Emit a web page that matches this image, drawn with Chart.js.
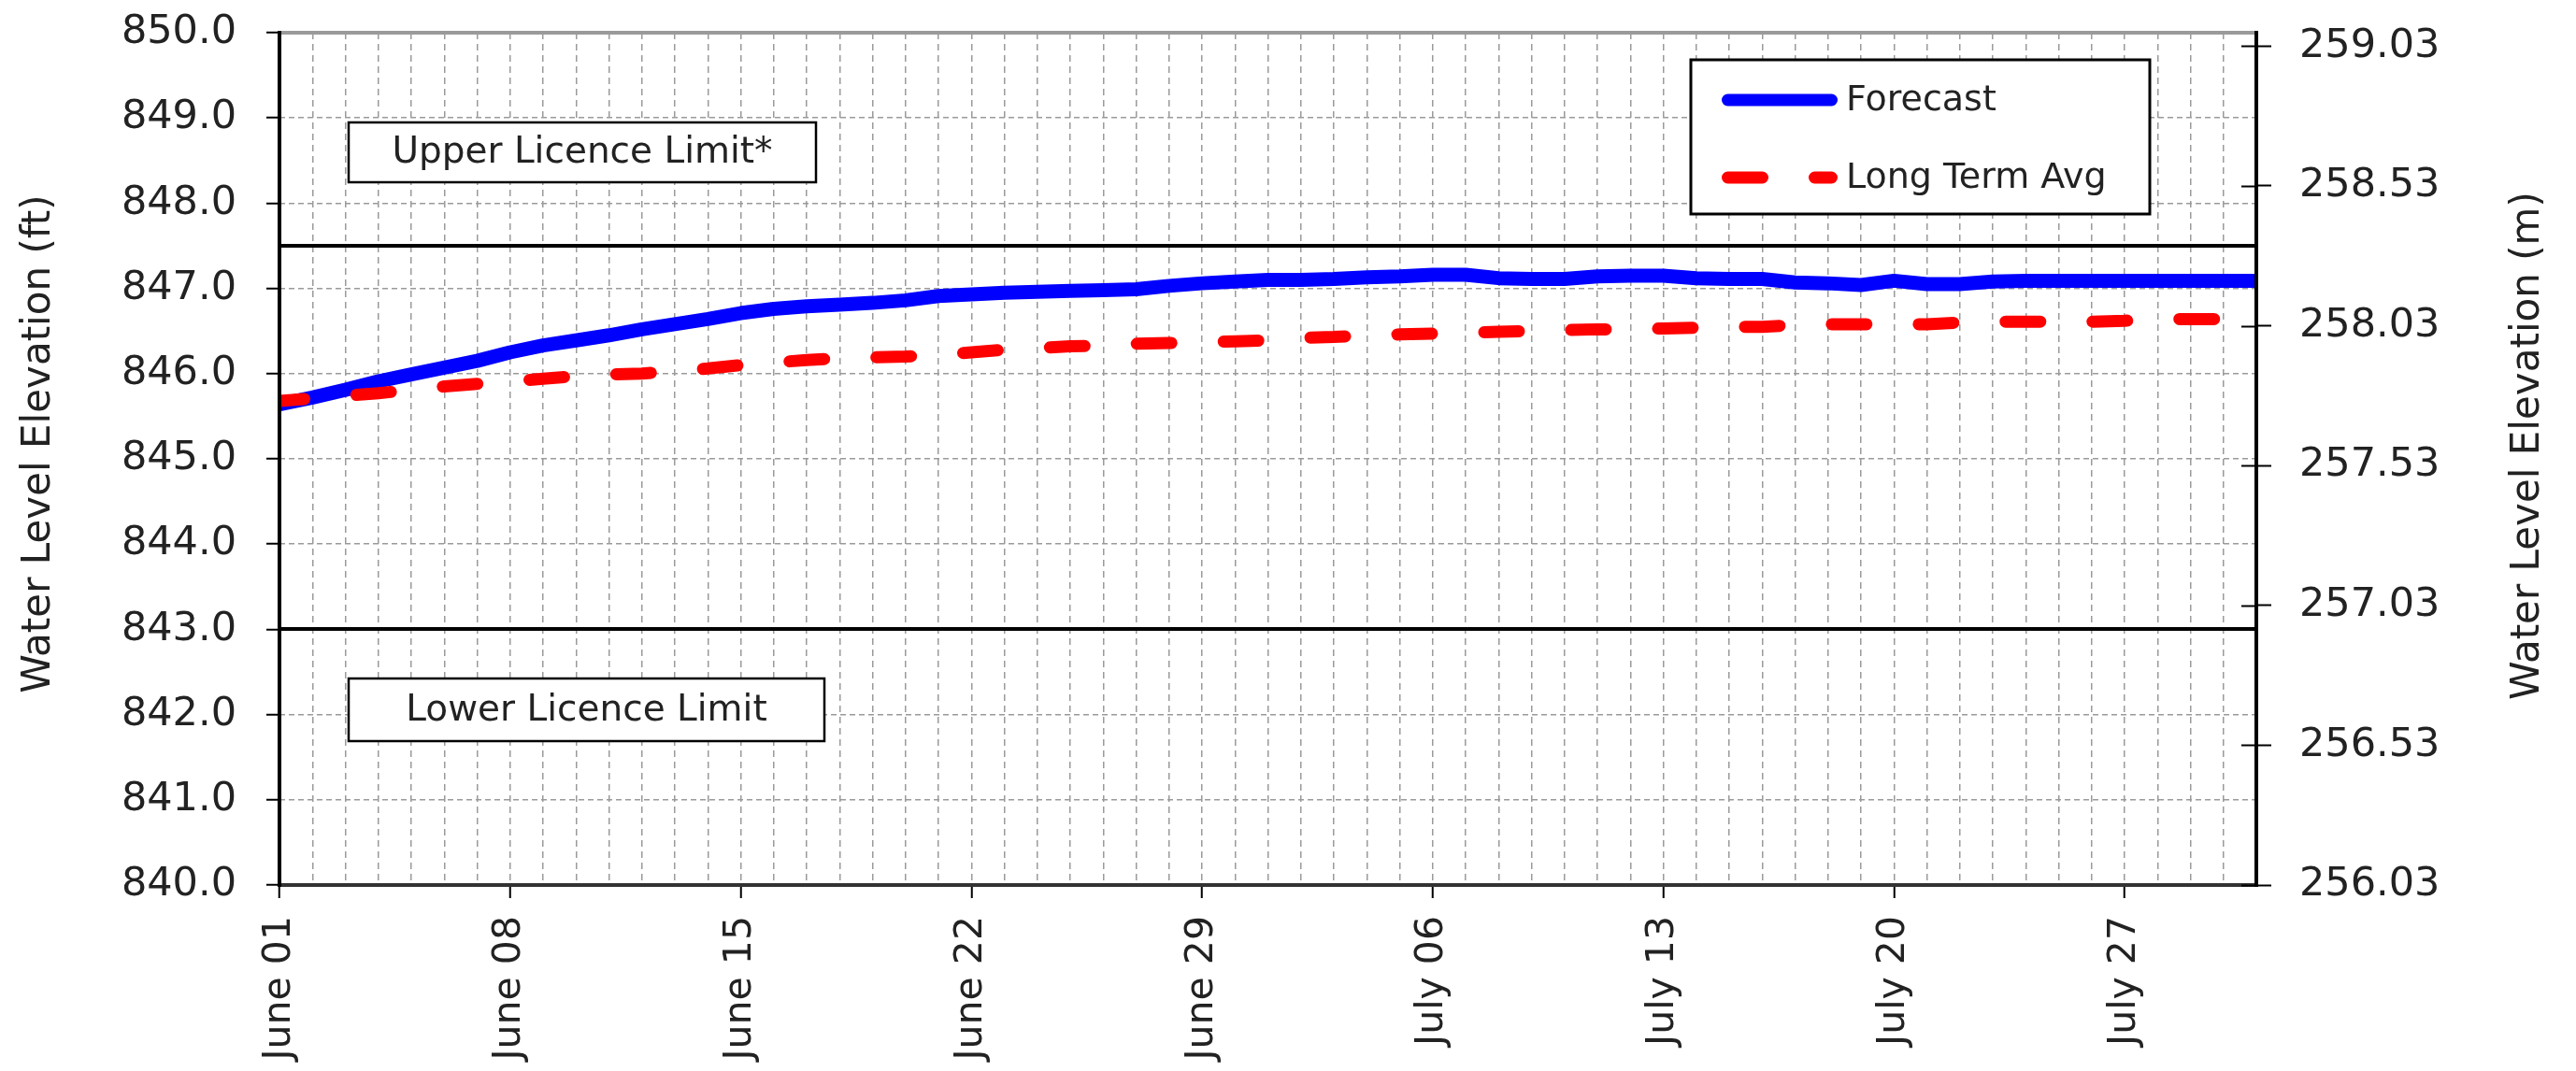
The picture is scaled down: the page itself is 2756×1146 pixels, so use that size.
<!DOCTYPE html>
<html><head><meta charset="utf-8">
<script src="https://cdn.jsdelivr.net/npm/chart.js@4"></script>
<style>html,body{margin:0;padding:0;background:#fff;}#wrap{width:2756px;height:1146px;}</style>
</head><body><div id="wrap"><canvas id="c" width="2756" height="1146"></canvas></div>
<script>
// ---- categories (daily, June 01 – July 31) ----
const months = [['June', 30], ['July', 31]];
const categories = [];
months.forEach(([m, n]) => { for (let d = 1; d <= n; d++) categories.push(m + ' ' + String(d).padStart(2, '0')); });
const tickLabels = ['June 01','June 08','June 15','June 22','June 29','July 06','July 13','July 20','July 27'];

// ---- series (ft) ----
const forecast = [
 845.64,845.72,845.81,845.91,845.99,846.07,846.15,846.25,846.33,846.39,
 846.45,846.52,846.58,846.64,846.71,846.76,846.79,846.81,846.83,846.86,
 846.91,846.93,846.95,846.96,846.97,846.98,846.99,847.03,847.06,847.08,
 847.10,847.10,847.11,847.13,847.14,847.16,847.16,847.12,847.11,847.11,
 847.14,847.15,847.15,847.12,847.11,847.11,847.07,847.06,847.04,847.09,
 847.05,847.05,847.08,847.09,847.09,847.09,847.09,847.09,847.09,847.09,847.09
];
const longTermAvg = [
 845.68,845.71,845.74,845.77,845.81,845.85,845.88,845.91,845.94,845.97,
 845.99,846.00,846.03,846.06,846.10,846.13,846.16,846.18,846.19,846.20,
 846.22,846.25,846.28,846.30,846.32,846.33,846.35,846.36,846.37,846.38,
 846.39,846.42,846.43,846.45,846.46,846.47,846.48,846.49,846.50,846.51,
 846.52,846.52,846.53,846.54,846.55,846.55,846.57,846.58,846.58,846.58,
 846.58,846.60,846.61,846.61,846.61,846.61,846.62,846.64,846.64,846.64,846.65
];
const seriesNames = ['Forecast', 'Long Term Avg'];
const upperLimit = 847.5;
const lowerLimit = 843.0;
const limitLabels = ['Upper Licence Limit*', 'Lower Licence Limit'];
const yMinFt = 840, yMaxFt = 850;
const FT_TO_M = 0.3048;
const axisTitles = ['Water Level Elevation (ft)', 'Water Level Elevation (m)'];

const FONT = '"DejaVu Sans", sans-serif';
const TXT = '#222';

const overlay = {
  id: 'overlay',
  beforeDatasetsDraw(chart) {
    const {ctx, chartArea: a, scales: {y}} = chart;
    ctx.save();
    ctx.strokeStyle = '#000'; ctx.lineWidth = 4;
    [upperLimit, lowerLimit].forEach(v => {
      const py = Math.round(y.getPixelForValue(v));
      ctx.beginPath(); ctx.moveTo(a.left, py); ctx.lineTo(a.right, py); ctx.stroke();
    });
    // limit label boxes
    const boxes = [
      {text: limitLabels[0], x: a.left + 74, y: a.top + 96, w: 500, h: 64},
      {text: limitLabels[1], x: a.left + 74, y: a.top + 691, w: 509, h: 67}
    ];
    ctx.font = '39px ' + FONT; ctx.textAlign = 'center'; ctx.textBaseline = 'middle';
    boxes.forEach(b => {
      ctx.fillStyle = '#fff'; ctx.fillRect(b.x, b.y, b.w, b.h);
      ctx.lineWidth = 2.5; ctx.strokeStyle = '#000'; ctx.strokeRect(b.x, b.y, b.w, b.h);
      ctx.fillStyle = TXT; ctx.fillText(b.text, b.x + b.w / 2, b.y + b.h / 2 + 1);
    });
    ctx.restore();
  },
  afterDraw(chart) {
    const {ctx, chartArea: a, scales: {y2}} = chart;
    ctx.save();
    // frame
    ctx.lineWidth = 4;
    ctx.strokeStyle = '#9a9a9a';
    ctx.beginPath(); ctx.moveTo(a.left, a.top); ctx.lineTo(a.right, a.top); ctx.stroke();
    ctx.strokeStyle = '#333';
    ctx.beginPath(); ctx.moveTo(a.left - 2, a.bottom); ctx.lineTo(a.right + 2, a.bottom); ctx.stroke();
    ctx.strokeStyle = '#000';
    ctx.beginPath(); ctx.moveTo(a.left, a.top - 2); ctx.lineTo(a.left, a.bottom + 2); ctx.stroke();
    ctx.beginPath(); ctx.moveTo(a.right, a.top - 2); ctx.lineTo(a.right, a.bottom + 2); ctx.stroke();
    // inner part of right ticks
    ctx.lineWidth = 2;
    y2.ticks.forEach(t => {
      const py = Math.round(y2.getPixelForValue(t.value)) + 0.5;
      ctx.beginPath(); ctx.moveTo(a.right - 16, py); ctx.lineTo(a.right, py); ctx.stroke();
    });
    // legend
    const lx = 1809, ly = 64, lw = 491, lh = 165;
    ctx.fillStyle = '#fff'; ctx.fillRect(lx, ly, lw, lh);
    ctx.lineWidth = 3; ctx.strokeStyle = '#000'; ctx.strokeRect(lx, ly, lw, lh);
    const ds = chart.data.datasets;
    const rows = [ly + 43, ly + 126];
    ds.forEach((d, i) => {
      ctx.save();
      ctx.strokeStyle = d.borderColor; ctx.lineWidth = 13; ctx.lineCap = 'round';
      ctx.setLineDash(d.borderDash || []);
      ctx.beginPath(); ctx.moveTo(lx + 39.5, rows[i]); ctx.lineTo(lx + 150.5, rows[i]); ctx.stroke();
      ctx.restore();
      ctx.fillStyle = TXT; ctx.font = '38px ' + FONT; ctx.textAlign = 'left'; ctx.textBaseline = 'middle';
      ctx.fillText(d.label, lx + 166, rows[i] + 1);
    });
    // axis titles
    ctx.fillStyle = TXT; ctx.font = '42px ' + FONT; ctx.textAlign = 'center'; ctx.textBaseline = 'middle';
    [[42, 475, axisTitles[0]], [2705, 477, axisTitles[1]]].forEach(([x, yy, t]) => {
      ctx.save(); ctx.translate(x, yy); ctx.rotate(-Math.PI / 2); ctx.fillText(t, 0, 0); ctx.restore();
    });
    ctx.restore();
  }
};

const noPad = s => { s.paddingTop = 0; s.paddingBottom = 0; s.paddingLeft = 0; s.paddingRight = 0; };

new Chart(document.getElementById('c'), {
  type: 'line',
  data: {
    labels: categories,
    datasets: [
      {label: seriesNames[0], data: forecast, borderColor: '#0000ff', borderWidth: 15, pointRadius: 0, tension: 0, clip: 0, borderJoinStyle: 'round', yAxisID: 'y', order: 1},
      {label: seriesNames[1], data: longTermAvg, borderColor: '#ff0000', borderWidth: 13, borderDash: [37, 56], borderDashOffset: 10.5, borderCapStyle: 'round', pointRadius: 0, tension: 0, clip: 0, yAxisID: 'y', order: 0}
    ]
  },
  options: {
    responsive: false, animation: false, devicePixelRatio: 1,
    layout: {padding: {top: 35, left: 0, right: 0, bottom: 0}},
    plugins: {legend: {display: false}, tooltip: {enabled: false}, title: {display: false}},
    scales: {
      x: {
        type: 'category', offset: false,
        border: {display: false, dash: [7, 5]},
        grid: {color: '#9a9a9a', lineWidth: 1.5, drawTicks: true, tickLength: 14, tickWidth: 2,
               tickColor: c => (c.index % 7 === 0 ? '#000' : 'rgba(0,0,0,0)')},
        ticks: {autoSkip: false, minRotation: 90, maxRotation: 90, padding: 19, color: TXT,
                font: {family: FONT, size: 41},
                callback: function(v, i) { const l = this.getLabelForValue(v); return tickLabels.includes(l) ? l : ''; }},
        afterFit: s => { s.height = 199; noPad(s); }
      },
      y: {
        position: 'left', min: yMinFt, max: yMaxFt,
        border: {display: false, dash: [6, 4]},
        grid: {color: c => (c.tick && Math.abs(c.tick.value % 1) < 1e-6 ? '#9a9a9a' : 'rgba(0,0,0,0)'),
               lineWidth: 1.5, tickLength: 14, tickWidth: 2, tickColor: '#000'},
        ticks: {stepSize: 0.5, padding: 32, color: TXT, font: {family: FONT, size: 43},
                callback: v => (Math.abs(v % 1) < 1e-6 ? v.toFixed(1) : '')},
        afterFit: s => { s.width = 299; noPad(s); }
      },
      y2: {
        position: 'right', min: yMinFt * FT_TO_M, max: yMaxFt * FT_TO_M,
        border: {display: false},
        grid: {drawOnChartArea: false, tickLength: 16, tickWidth: 2, tickColor: '#000'},
        afterBuildTicks: s => { const t = []; for (let v = yMinFt * FT_TO_M; v <= yMaxFt * FT_TO_M + 1e-9; v += 0.5) t.push({value: v}); s.ticks = t; },
        ticks: {padding: 30, color: TXT, font: {family: FONT, size: 43}, callback: v => v.toFixed(2)},
        afterFit: s => { s.width = 342; noPad(s); }
      }
    }
  },
  plugins: [overlay]
});
</script></body></html>
